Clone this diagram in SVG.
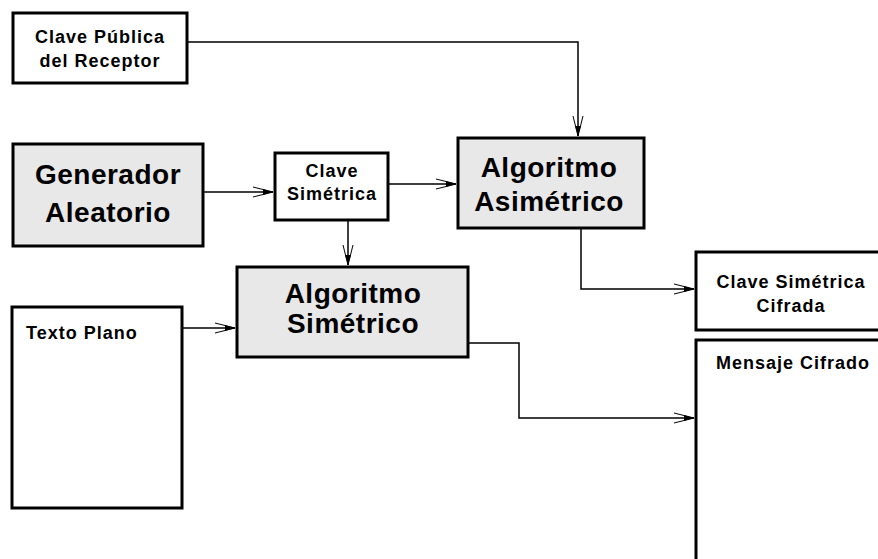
<svg xmlns="http://www.w3.org/2000/svg" width="878" height="559" viewBox="0 0 878 559">
<defs>
<style>
.box{fill:#fff;stroke:#000;stroke-width:3}
.gbox{fill:#e8e8e8;stroke:#000;stroke-width:3}
.t{font-family:"Liberation Sans",Arial,sans-serif;font-weight:bold;font-size:18px;letter-spacing:1px;fill:#000}
.big{font-family:"Liberation Sans",Arial,sans-serif;font-weight:bold;font-size:28px;letter-spacing:0.5px;fill:#000}
.c{text-anchor:middle}
.ln{fill:none;stroke:#000;stroke-width:1.5}
</style>
<marker id="ah" markerUnits="userSpaceOnUse" markerWidth="24" markerHeight="14" viewBox="-22 -7 24 14" refX="0" refY="0" orient="auto">
<path d="M-20,-5 L0,0 L-20,5" fill="none" stroke="#000" stroke-width="1"/>
<path d="M-10,-3 L0,0 L-10,3 Z" fill="#000"/>
</marker>
</defs>
<g id="connectors">
<polyline class="ln" points="187,42 578,42 578,136" marker-end="url(#ah)"/>
<line class="ln" x1="203" y1="192" x2="273" y2="192" marker-end="url(#ah)"/>
<line class="ln" x1="388" y1="184" x2="456" y2="184" marker-end="url(#ah)"/>
<line class="ln" x1="348" y1="220" x2="348" y2="265" marker-end="url(#ah)"/>
<line class="ln" x1="182" y1="328" x2="235" y2="328" marker-end="url(#ah)"/>
<polyline class="ln" points="581,228 581,289 694,289" marker-end="url(#ah)"/>
<polyline class="ln" points="468,343 519,343 519,418 694,418" marker-end="url(#ah)"/>
</g>
<g id="clave-publica">
<rect class="box" x="13" y="13" width="174" height="70"/>
<text class="t c" x="100" y="43">Clave Pública</text>
<text class="t c" x="100" y="67">del Receptor</text>
</g>
<g id="generador">
<rect class="gbox" x="13" y="144" width="190" height="102"/>
<text class="big c" x="108" y="184">Generador</text>
<text class="big c" x="108" y="222">Aleatorio</text>
</g>
<g id="clave-simetrica">
<rect class="box" x="275" y="153" width="113" height="67"/>
<text class="t c" x="332" y="177">Clave</text>
<text class="t c" x="332" y="200">Simétrica</text>
</g>
<g id="alg-asimetrico">
<rect class="gbox" x="458" y="138" width="186" height="90"/>
<text class="big c" x="549" y="177">Algoritmo</text>
<text class="big c" x="549" y="211">Asimétrico</text>
</g>
<g id="alg-simetrico">
<rect class="gbox" x="237" y="267" width="231" height="90"/>
<text class="big c" x="353" y="303">Algoritmo</text>
<text class="big c" x="353" y="333">Simétrico</text>
</g>
<g id="texto-plano">
<rect class="box" x="12" y="307" width="170" height="201"/>
<text class="t" x="26" y="339">Texto Plano</text>
</g>
<g id="clave-cifrada">
<rect class="box" x="696" y="252" width="190" height="78"/>
<text class="t c" x="791" y="288">Clave Simétrica</text>
<text class="t c" x="791" y="312">Cifrada</text>
</g>
<g id="mensaje-cifrado">
<rect class="box" x="696" y="340" width="190" height="230"/>
<text class="t" x="716" y="369">Mensaje Cifrado</text>
</g>
</svg>
